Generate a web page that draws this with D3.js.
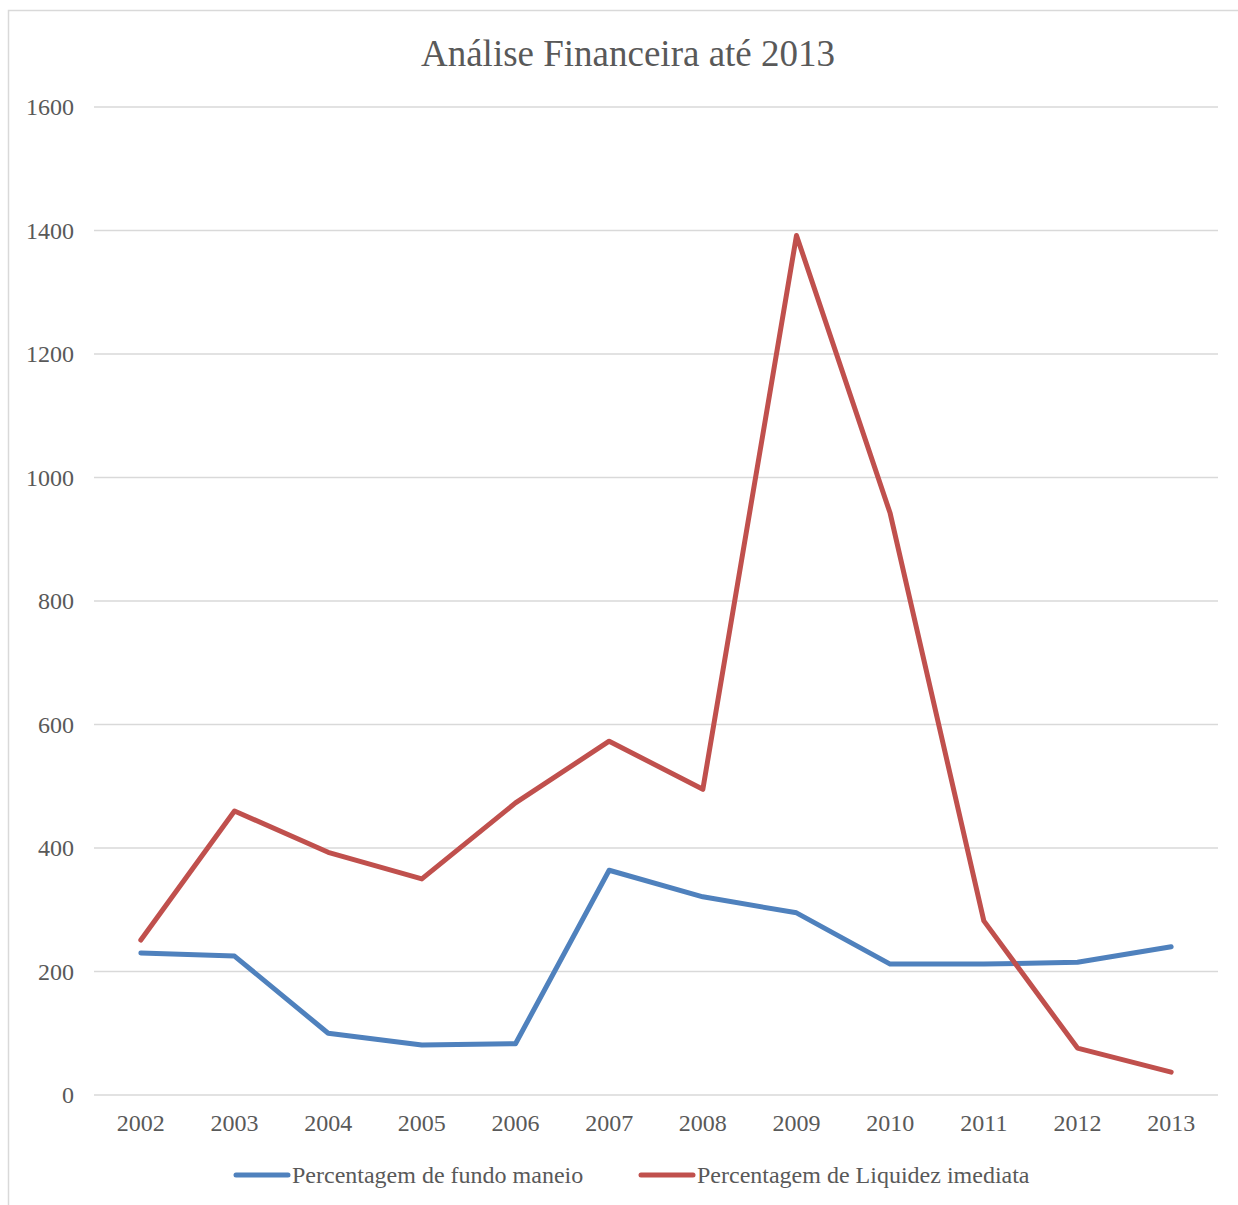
<!DOCTYPE html>
<html>
<head>
<meta charset="utf-8">
<script src="https://cdn.jsdelivr.net/npm/d3@7"></script>
<style>
  body { margin: 0; background: #fff; }
</style>
</head>
<body>
<svg id="chart" width="1238" height="1205"></svg>
<script>
// chart data
const years = ["2002", "2003", "2004", "2005", "2006", "2007", "2008", "2009", "2010", "2011", "2012", "2013"];
const fundoManeio = [230, 225, 100, 81, 83, 364, 321, 295, 212, 212, 215, 240];
const liquidezImediata = [251, 460, 393, 350, 473, 573, 495, 1392, 942, 282, 76, 37];
const yTicks = [0, 200, 400, 600, 800, 1000, 1200, 1400, 1600];
const seriesNames = ["Percentagem de fundo maneio", "Percentagem de Liquidez imediata"];
const seriesColors = ["#4F81BD", "#C0504D"];

const serif = "Liberation Serif";
const textColor = "#595959";

let svg = d3.select("#chart");

// outer frame (right side runs off the picture)
svg.append("rect")
    .attr("x", 8.5).attr("y", 10.5)
    .attr("width", 1260).attr("height", 1220)
    .attr("fill", "none")
    .attr("stroke", "#d9d9d9")
    .attr("stroke-width", 1.5);

svg.append("text")
    .attr("x", 628).attr("y", 66)
    .attr("text-anchor", "middle")
    .style("font-family", serif)
    .style("font-size", "37px")
    .attr("fill", textColor)
    .text("Análise Financeira até 2013");

let plotLeft = 94, plotRight = 1218, plotTop = 107, plotBottom = 1095;

let x = d3.scaleBand().domain(years).range([plotLeft, plotRight]);
let y = d3.scaleLinear().domain([0, 1600]).range([plotBottom, plotTop]);

// gridlines
svg.append("g")
    .selectAll("line")
    .data(yTicks)
    .enter().append("line")
    .attr("x1", plotLeft).attr("x2", plotRight)
    .attr("y1", d => y(d)).attr("y2", d => y(d))
    .attr("stroke", "#d9d9d9")
    .attr("stroke-width", 1.5);

// y axis labels
let yAxis = d3.axisLeft(y).tickValues(yTicks).tickFormat(d3.format("d")).tickSize(0).tickPadding(20);
let gy = svg.append("g").attr("transform", "translate(" + plotLeft + ",0)").call(yAxis);
gy.select(".domain").remove();
gy.selectAll("text")
    .style("font-size", "24px")
    .style("font-family", serif)
    .attr("fill", textColor);

// x axis labels
let xAxis = d3.axisBottom(x).tickSize(0).tickPadding(19);
let gx = svg.append("g").attr("transform", "translate(0," + plotBottom + ")").call(xAxis);
gx.select(".domain").remove();
gx.selectAll("text")
    .style("font-size", "24px")
    .style("font-family", serif)
    .attr("fill", textColor);

let line = d3.line()
    .x((d, i) => x(years[i]) + x.bandwidth() / 2)
    .y(d => y(d));

[fundoManeio, liquidezImediata].forEach(function (values, i) {
    svg.append("path")
        .datum(values)
        .attr("d", line)
        .attr("fill", "none")
        .attr("stroke", seriesColors[i])
        .attr("stroke-width", 5)
        .attr("stroke-linejoin", "round")
        .attr("stroke-linecap", "round");
});

// legend
let legendX = [234, 639];
let legend = svg.append("g")
    .selectAll("g")
    .data(seriesNames)
    .enter().append("g")
    .attr("transform", (d, i) => "translate(" + legendX[i] + ",1175)");

legend.append("line")
    .attr("x1", 2).attr("x2", 54)
    .attr("y1", 0).attr("y2", 0)
    .attr("stroke", (d, i) => seriesColors[i])
    .attr("stroke-width", 5)
    .attr("stroke-linecap", "round");

legend.append("text")
    .attr("x", 58).attr("y", 8)
    .style("font-family", serif)
    .style("font-size", "24px")
    .attr("fill", textColor)
    .text(d => d);
</script>
</body>
</html>
